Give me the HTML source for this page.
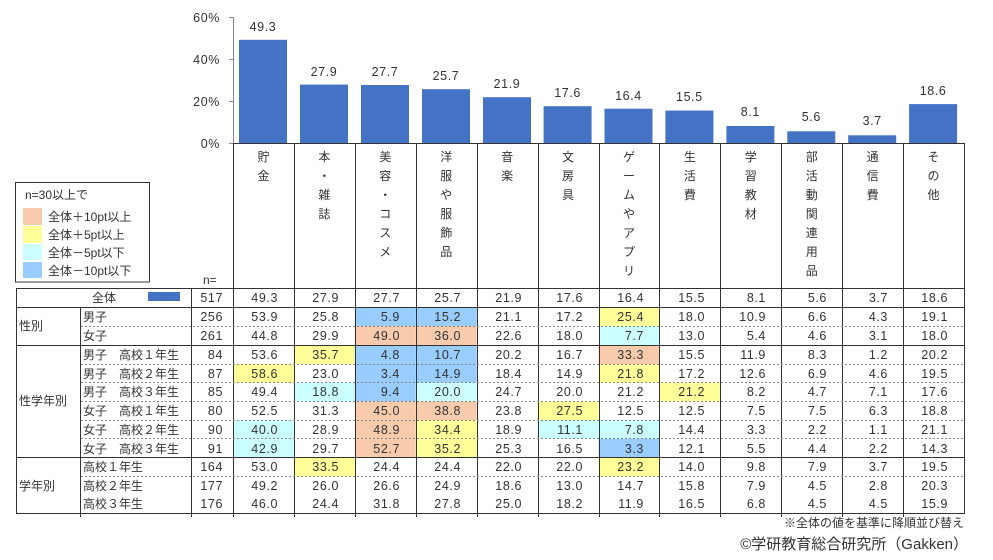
<!DOCTYPE html>
<html><head><meta charset="utf-8"><style>
html,body{margin:0;padding:0;background:#fff;}
svg{display:block;font-family:"Liberation Sans","Noto Sans CJK JP",sans-serif;}
text{fill:#333;}
.num text{letter-spacing:0.6px;}
</style></head><body>
<svg width="993" height="560" viewBox="0 0 993 560" xmlns="http://www.w3.org/2000/svg">
<g stroke="#888" stroke-width="1" fill="none">
<line x1="233.5" y1="17" x2="233.5" y2="143"/>
<line x1="229" y1="17.5" x2="233" y2="17.5"/>
<line x1="229" y1="59.5" x2="233" y2="59.5"/>
<line x1="229" y1="101.5" x2="233" y2="101.5"/>
<line x1="229" y1="143.5" x2="233" y2="143.5"/>
</g>
<g font-size="12.5" text-anchor="end" class="num">
<text x="220" y="22">60%</text><text x="220" y="64">40%</text><text x="220" y="106">20%</text><text x="220" y="148">0%</text>
</g>
<g fill="#4472C4">
<rect x="239" y="39.8" width="48" height="103.2"/>
<rect x="300" y="84.6" width="48" height="58.4"/>
<rect x="361" y="85" width="48" height="58"/>
<rect x="422" y="89.2" width="48" height="53.8"/>
<rect x="483" y="97.2" width="48" height="45.8"/>
<rect x="543.6" y="106.2" width="48" height="36.8"/>
<rect x="604.5" y="108.7" width="48" height="34.3"/>
<rect x="665.4" y="110.6" width="48" height="32.4"/>
<rect x="726.4" y="126" width="48" height="17"/>
<rect x="787.3" y="131.3" width="48" height="11.7"/>
<rect x="848.2" y="135.3" width="48" height="7.7"/>
<rect x="909.1" y="104.1" width="48" height="38.9"/>
</g>
<g font-size="12.5" text-anchor="middle" class="num">
<text x="263" y="31">49.3</text><text x="324" y="76">27.9</text><text x="385" y="76">27.7</text><text x="446" y="80">25.7</text>
<text x="507" y="88">21.9</text><text x="567.6" y="97">17.6</text><text x="628.5" y="100">16.4</text><text x="689.4" y="101">15.5</text>
<text x="750.4" y="116">8.1</text><text x="811.3" y="121">5.6</text><text x="872.2" y="125">3.7</text><text x="933.1" y="95">18.6</text>
</g>
<g font-size="12" text-anchor="middle">
<text x="263.5" y="161">貯</text><text x="263.5" y="180">金</text>
<text x="324.4" y="161">本</text><text x="324.4" y="180">・</text><text x="324.4" y="199">雑</text><text x="324.4" y="218">誌</text>
<text x="385.3" y="161">美</text><text x="385.3" y="180">容</text><text x="385.3" y="199">・</text><text x="385.3" y="218">コ</text><text x="385.3" y="237">ス</text><text x="385.3" y="256">メ</text>
<text x="446.2" y="161">洋</text><text x="446.2" y="180">服</text><text x="446.2" y="199">や</text><text x="446.2" y="218">服</text><text x="446.2" y="237">飾</text><text x="446.2" y="256">品</text>
<text x="507.1" y="161">音</text><text x="507.1" y="180">楽</text>
<text x="568" y="161">文</text><text x="568" y="180">房</text><text x="568" y="199">具</text>
<text x="629" y="161">ゲ</text><text x="629" y="180">ー</text><text x="629" y="199">ム</text><text x="629" y="218">や</text><text x="629" y="237">ア</text><text x="629" y="256">プ</text><text x="629" y="275">リ</text>
<text x="689.9" y="161">生</text><text x="689.9" y="180">活</text><text x="689.9" y="199">費</text>
<text x="750.8" y="161">学</text><text x="750.8" y="180">習</text><text x="750.8" y="199">教</text><text x="750.8" y="218">材</text>
<text x="811.7" y="161">部</text><text x="811.7" y="180">活</text><text x="811.7" y="199">動</text><text x="811.7" y="218">関</text><text x="811.7" y="237">連</text><text x="811.7" y="256">用</text><text x="811.7" y="275">品</text>
<text x="872.6" y="161">通</text><text x="872.6" y="180">信</text><text x="872.6" y="199">費</text>
<text x="933.5" y="161">そ</text><text x="933.5" y="180">の</text><text x="933.5" y="199">他</text>
</g>
<rect x="15.5" y="182.5" width="134" height="99.5" fill="none" stroke="#333" stroke-width="1"/>
<g font-size="12">
<text x="25" y="199">n=30以上で</text>
<rect x="23" y="208" width="19" height="17" fill="#F8CBAD"/><text x="48" y="221">全体＋10pt以上</text>
<rect x="23" y="226" width="19" height="17" fill="#FFFF99"/><text x="48" y="239">全体＋5pt以上</text>
<rect x="23" y="244" width="19" height="16" fill="#CCFFFF"/><text x="48" y="257">全体－5pt以下</text>
<rect x="23" y="262" width="19" height="16" fill="#99CCFF"/><text x="48" y="275">全体－10pt以下</text>
<text x="203" y="284">n=</text>
</g>
<g>
<rect x="354.8" y="307" width="61" height="19" fill="#99CCFF"/><rect x="415.8" y="307" width="61" height="19" fill="#99CCFF"/><rect x="598.5" y="307" width="61" height="19" fill="#FFFF99"/>
<rect x="354.8" y="326" width="61" height="19" fill="#F8CBAD"/><rect x="415.8" y="326" width="61" height="19" fill="#F8CBAD"/><rect x="598.5" y="326" width="61" height="19" fill="#CCFFFF"/>
<rect x="293.9" y="345" width="61" height="19" fill="#FFFF99"/><rect x="354.8" y="345" width="61" height="19" fill="#99CCFF"/><rect x="415.8" y="345" width="61" height="19" fill="#99CCFF"/><rect x="598.5" y="345" width="61" height="19" fill="#F8CBAD"/>
<rect x="233" y="364" width="61" height="19" fill="#FFFF99"/><rect x="354.8" y="364" width="61" height="19" fill="#99CCFF"/><rect x="415.8" y="364" width="61" height="19" fill="#99CCFF"/><rect x="598.5" y="364" width="61" height="19" fill="#FFFF99"/>
<rect x="293.9" y="382.5" width="61" height="19" fill="#CCFFFF"/><rect x="354.8" y="382.5" width="61" height="19" fill="#99CCFF"/><rect x="415.8" y="382.5" width="61" height="19" fill="#CCFFFF"/><rect x="659.4" y="382.5" width="61" height="19" fill="#FFFF99"/>
<rect x="354.8" y="401.3" width="61" height="19" fill="#F8CBAD"/><rect x="415.8" y="401.3" width="61" height="19" fill="#F8CBAD"/><rect x="537.6" y="401.3" width="61" height="19" fill="#FFFF99"/>
<rect x="233" y="420" width="61" height="19" fill="#CCFFFF"/><rect x="354.8" y="420" width="61" height="19" fill="#F8CBAD"/><rect x="415.8" y="420" width="61" height="19" fill="#FFFF99"/><rect x="537.6" y="420" width="61" height="19" fill="#CCFFFF"/><rect x="598.5" y="420" width="61" height="19" fill="#CCFFFF"/>
<rect x="233" y="438.7" width="61" height="19" fill="#CCFFFF"/><rect x="354.8" y="438.7" width="61" height="19" fill="#F8CBAD"/><rect x="415.8" y="438.7" width="61" height="19" fill="#FFFF99"/><rect x="598.5" y="438.7" width="61" height="19" fill="#99CCFF"/>
<rect x="293.9" y="457.7" width="61" height="19" fill="#FFFF99"/><rect x="598.5" y="457.7" width="61" height="19" fill="#FFFF99"/>
<rect x="148" y="292" width="32" height="9" fill="#4472C4"/>
</g>
<g stroke="#333" stroke-width="1" fill="none">
<line x1="233" y1="143.5" x2="964" y2="143.5"/>
<line x1="16" y1="288.5" x2="964" y2="288.5"/>
<line x1="16" y1="307.5" x2="964" y2="307.5"/>
<line x1="16" y1="345.5" x2="964" y2="345.5"/>
<line x1="16" y1="457.5" x2="964" y2="457.5"/>
<line x1="16" y1="513.5" x2="964" y2="513.5"/>
<line x1="16.5" y1="288" x2="16.5" y2="514"/>
<line x1="80.5" y1="307" x2="80.5" y2="517"/>
<line x1="191.5" y1="288" x2="191.5" y2="517"/>
<line x1="233.5" y1="143" x2="233.5" y2="517"/>
<line x1="294.5" y1="143" x2="294.5" y2="517"/><line x1="355.5" y1="143" x2="355.5" y2="517"/><line x1="416.5" y1="143" x2="416.5" y2="517"/><line x1="477.5" y1="143" x2="477.5" y2="517"/><line x1="538.5" y1="143" x2="538.5" y2="517"/><line x1="599.5" y1="143" x2="599.5" y2="517"/><line x1="659.5" y1="143" x2="659.5" y2="517"/><line x1="720.5" y1="143" x2="720.5" y2="517"/><line x1="781.5" y1="143" x2="781.5" y2="517"/><line x1="842.5" y1="143" x2="842.5" y2="517"/><line x1="903.5" y1="143" x2="903.5" y2="517"/><line x1="964.5" y1="143" x2="964.5" y2="514"/>
</g>
<g stroke="#888" stroke-width="1" stroke-dasharray="2,2">
<line x1="81" y1="326.5" x2="964" y2="326.5"/>
<line x1="81" y1="364.5" x2="964" y2="364.5"/>
<line x1="81" y1="382.5" x2="964" y2="382.5"/>
<line x1="81" y1="401.5" x2="964" y2="401.5"/>
<line x1="81" y1="420.5" x2="964" y2="420.5"/>
<line x1="81" y1="438.5" x2="964" y2="438.5"/>
<line x1="81" y1="476.5" x2="964" y2="476.5"/>
</g>
<g font-size="12">
<text x="92" y="302">全体</text>
<text x="19" y="330">性別</text><text x="19" y="405">性学年別</text><text x="19" y="490">学年別</text>
<text x="83" y="321">男子</text><text x="83" y="340">女子</text>
<text x="83" y="359">男子　高校１年生</text><text x="83" y="378">男子　高校２年生</text><text x="83" y="396">男子　高校３年生</text>
<text x="83" y="415">女子　高校１年生</text><text x="83" y="434">女子　高校２年生</text><text x="83" y="453">女子　高校３年生</text>
<text x="83" y="471">高校１年生</text><text x="83" y="490">高校２年生</text><text x="83" y="508">高校３年生</text>
</g>
<g font-size="12.5" text-anchor="end" class="num">
<g><text x="223" y="302">517</text><text x="223" y="321">256</text><text x="223" y="340">261</text><text x="223" y="359">84</text><text x="223" y="378">87</text><text x="223" y="396">85</text><text x="223" y="415">80</text><text x="223" y="434">90</text><text x="223" y="453">91</text><text x="223" y="471">164</text><text x="223" y="490">177</text><text x="223" y="508">176</text></g>
<g transform="translate(278,0)"><text y="302">49.3</text><text y="321">53.9</text><text y="340">44.8</text><text y="359">53.6</text><text y="378">58.6</text><text y="396">49.4</text><text y="415">52.5</text><text y="434">40.0</text><text y="453">42.9</text><text y="471">53.0</text><text y="490">49.2</text><text y="508">46.0</text></g>
<g transform="translate(339,0)"><text y="302">27.9</text><text y="321">25.8</text><text y="340">29.9</text><text y="359">35.7</text><text y="378">23.0</text><text y="396">18.8</text><text y="415">31.3</text><text y="434">28.9</text><text y="453">29.7</text><text y="471">33.5</text><text y="490">26.0</text><text y="508">24.4</text></g>
<g transform="translate(400,0)"><text y="302">27.7</text><text y="321">5.9</text><text y="340">49.0</text><text y="359">4.8</text><text y="378">3.4</text><text y="396">9.4</text><text y="415">45.0</text><text y="434">48.9</text><text y="453">52.7</text><text y="471">24.4</text><text y="490">26.6</text><text y="508">31.8</text></g>
<g transform="translate(461,0)"><text y="302">25.7</text><text y="321">15.2</text><text y="340">36.0</text><text y="359">10.7</text><text y="378">14.9</text><text y="396">20.0</text><text y="415">38.8</text><text y="434">34.4</text><text y="453">35.2</text><text y="471">24.4</text><text y="490">24.9</text><text y="508">27.8</text></g>
<g transform="translate(522,0)"><text y="302">21.9</text><text y="321">21.1</text><text y="340">22.6</text><text y="359">20.2</text><text y="378">18.4</text><text y="396">24.7</text><text y="415">23.8</text><text y="434">18.9</text><text y="453">25.3</text><text y="471">22.0</text><text y="490">18.6</text><text y="508">25.0</text></g>
<g transform="translate(583,0)"><text y="302">17.6</text><text y="321">17.2</text><text y="340">18.0</text><text y="359">16.7</text><text y="378">14.9</text><text y="396">20.0</text><text y="415">27.5</text><text y="434">11.1</text><text y="453">16.5</text><text y="471">22.0</text><text y="490">13.0</text><text y="508">18.2</text></g>
<g transform="translate(644,0)"><text y="302">16.4</text><text y="321">25.4</text><text y="340">7.7</text><text y="359">33.3</text><text y="378">21.8</text><text y="396">21.2</text><text y="415">12.5</text><text y="434">7.8</text><text y="453">3.3</text><text y="471">23.2</text><text y="490">14.7</text><text y="508">11.9</text></g>
<g transform="translate(705,0)"><text y="302">15.5</text><text y="321">18.0</text><text y="340">13.0</text><text y="359">15.5</text><text y="378">17.2</text><text y="396">21.2</text><text y="415">12.5</text><text y="434">14.4</text><text y="453">12.1</text><text y="471">14.0</text><text y="490">15.8</text><text y="508">16.5</text></g>
<g transform="translate(766,0)"><text y="302">8.1</text><text y="321">10.9</text><text y="340">5.4</text><text y="359">11.9</text><text y="378">12.6</text><text y="396">8.2</text><text y="415">7.5</text><text y="434">3.3</text><text y="453">5.5</text><text y="471">9.8</text><text y="490">7.9</text><text y="508">6.8</text></g>
<g transform="translate(827,0)"><text y="302">5.6</text><text y="321">6.6</text><text y="340">4.6</text><text y="359">8.3</text><text y="378">6.9</text><text y="396">4.7</text><text y="415">7.5</text><text y="434">2.2</text><text y="453">4.4</text><text y="471">7.9</text><text y="490">4.5</text><text y="508">4.5</text></g>
<g transform="translate(888,0)"><text y="302">3.7</text><text y="321">4.3</text><text y="340">3.1</text><text y="359">1.2</text><text y="378">4.6</text><text y="396">7.1</text><text y="415">6.3</text><text y="434">1.1</text><text y="453">2.2</text><text y="471">3.7</text><text y="490">2.8</text><text y="508">4.5</text></g>
<g transform="translate(948,0)"><text y="302">18.6</text><text y="321">19.1</text><text y="340">18.0</text><text y="359">20.2</text><text y="378">19.5</text><text y="396">17.6</text><text y="415">18.8</text><text y="434">21.1</text><text y="453">14.3</text><text y="471">19.5</text><text y="490">20.3</text><text y="508">15.9</text></g>
</g>
<g text-anchor="end">
<text x="964" y="527" font-size="12">※全体の値を基準に降順並び替え</text>
<text x="968" y="549" font-size="15">©学研教育総合研究所（Gakken）</text>
</g>
</svg>
</body></html>
